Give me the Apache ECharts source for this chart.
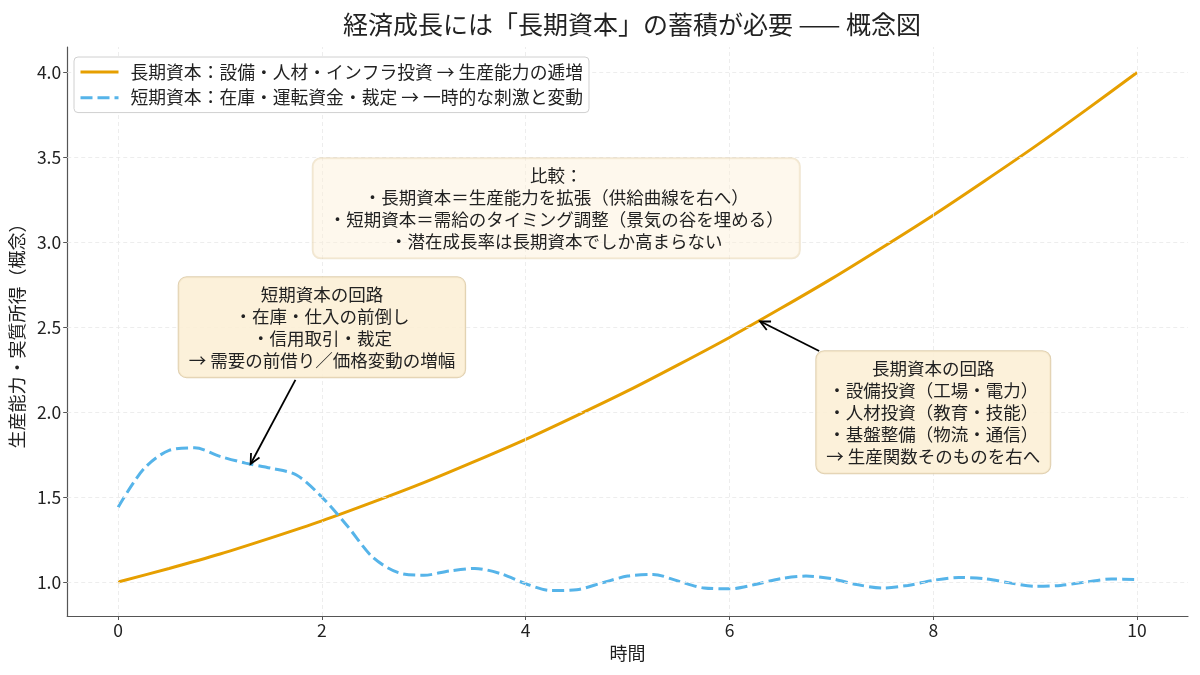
<!DOCTYPE html>
<html>
<head>
<meta charset="utf-8">
<script src="https://cdn.jsdelivr.net/npm/echarts@6/dist/echarts.min.js"></script>
<style>
  html, body { margin: 0; background: #fff; }
  #main { width: 1200px; height: 675px; }
</style>
</head>
<body>
<div id="main"></div>
<script>
var FONT = '"Noto Sans CJK JP", "Noto Sans", sans-serif'

// 長期資本（実線）
var xLong = [0, 0.5, 1, 1.5, 2, 2.5, 3, 3.5, 4, 4.5, 5, 5.5, 6, 6.5, 7, 7.5, 8, 8.5, 9, 9.5, 10]
var yLong = [1.00, 1.08, 1.165, 1.26, 1.36, 1.47, 1.585, 1.71, 1.84, 1.98, 2.125, 2.28, 2.44, 2.61, 2.785, 2.97, 3.16, 3.36, 3.565, 3.78, 4.00]

// 短期資本（破線）
var xShort = [0, 0.25, 0.5, 0.75, 1, 1.25, 1.5, 1.75, 2, 2.25, 2.5, 2.75, 3, 3.25, 3.5, 3.75, 4, 4.25, 4.5, 4.75,
              5, 5.25, 5.5, 5.75, 6, 6.25, 6.5, 6.75, 7, 7.25, 7.5, 7.75, 8, 8.25, 8.5, 8.75, 9, 9.25, 9.5, 9.75, 10]
var yShort = [1.44, 1.665, 1.775, 1.79, 1.74, 1.70, 1.67, 1.63, 1.50, 1.33, 1.145, 1.055, 1.04, 1.065, 1.08, 1.05, 0.99, 0.95, 0.955, 0.995,
              1.035, 1.045, 1.005, 0.965, 0.96, 0.985, 1.02, 1.035, 1.02, 0.985, 0.965, 0.98, 1.01, 1.027, 1.02, 0.995, 0.975, 0.98, 1.0, 1.018, 1.015]

var xTicks = [0, 2, 4, 6, 8, 10]
var yTicks = [1.0, 1.5, 2.0, 2.5, 3.0, 3.5, 4.0]

var nameLong = '長期資本：設備・人材・インフラ投資 → 生産能力の逓増'
var nameShort = '短期資本：在庫・運転資金・裁定 → 一時的な刺激と変動'

function pairs(xs, ys) {
    return xs.map(function (x, i) { return [x, ys[i]] })
}

var axisColor = '#555'
var gridLine = { color: '#e8e8e8', width: 0.8, type: [4, 3] }

var chart = echarts.init(document.getElementById('main'))

var option = {
    animation: false,
    title: {
        text: '経済成長には「長期資本」の蓄積が必要 —— 概念図',
        left: 627,
        textAlign: 'center',
        top: 7,
        textStyle: { fontFamily: FONT, fontSize: 25, fontWeight: 'normal', color: '#222' }
    },
    grid: { left: 66, right: 12, top: 47, bottom: 59 },
    legend: {
        data: [nameLong, nameShort],
        orient: 'vertical',
        left: 74,
        top: 57,
        z: 20,
        itemWidth: 38,
        itemHeight: 14,
        itemGap: 8,
        padding: [6, 6, 6, 5],
        backgroundColor: '#ffffff',
        borderColor: '#d0d0d0',
        borderWidth: 1,
        borderRadius: 4,
        itemStyle: { opacity: 0 },
        lineStyle: { width: 3 },
        textStyle: { fontFamily: FONT, fontSize: 17.8, color: '#222', padding: [0, 0, 0, 7] }
    },
    xAxis: {
        type: 'value',
        min: -0.5,
        max: 10.5,
        name: '時間',
        nameLocation: 'middle',
        nameGap: 27,
        nameTextStyle: { fontFamily: FONT, fontSize: 18, color: '#222' },
        axisLine: { onZero: false, lineStyle: { color: axisColor, width: 1.2 } },
        axisTick: { show: true, length: 4, customValues: xTicks, lineStyle: { color: axisColor } },
        axisLabel: { customValues: xTicks, fontFamily: FONT, fontSize: 17.5, color: '#222', margin: 6 },
        splitLine: { show: false }
    },
    yAxis: {
        type: 'value',
        min: 0.8,
        max: 4.15,
        name: '生産能力・実質所得（概念）',
        nameLocation: 'middle',
        nameGap: 30,
        nameTextStyle: { fontFamily: FONT, fontSize: 18, color: '#222' },
        axisLine: { show: true, onZero: false, lineStyle: { color: axisColor, width: 1.2 } },
        axisTick: { show: true, length: 4, customValues: yTicks, lineStyle: { color: axisColor } },
        axisLabel: {
            customValues: yTicks, fontFamily: FONT, fontSize: 17.5, color: '#222', margin: 6,
            formatter: function (v) { return v.toFixed(1) }
        },
        splitLine: { show: false }
    },
    series: [
        {
            // 補助線（グリッド）
            name: 'grid',
            type: 'line',
            data: [],
            z: 1,
            silent: true,
            markLine: {
                silent: true,
                symbol: ['none', 'none'],
                label: { show: false },
                lineStyle: gridLine,
                data: xTicks.map(function (v) { return { xAxis: v } })
                    .concat(yTicks.map(function (v) { return { yAxis: v } }))
            }
        },
        {
            name: nameLong,
            type: 'line',
            data: pairs(xLong, yLong),
            smooth: 0.3,
            showSymbol: false,
            symbol: 'none',
            z: 3,
            color: '#E69F00',
            lineStyle: { color: '#E69F00', width: 3, type: 'solid' }
        },
        {
            name: nameShort,
            type: 'line',
            data: pairs(xShort, yShort),
            smooth: 0.3,
            showSymbol: false,
            symbol: 'none',
            z: 4,
            color: '#56B4E9',
            lineStyle: { color: '#56B4E9', width: 3, type: [12, 5] }
        }
    ]
}
chart.setOption(option)

// 注釈 ==================================================
function px(p) { return chart.convertToPixel({ gridIndex: 0 }, p) }

var notes = [
    {
        at: [4.3, 3.2],
        lines: ['比較：', '・長期資本＝生産能力を拡張（供給曲線を右へ）', '・短期資本＝需給のタイミング調整（景気の谷を埋める）', '・潜在成長率は長期資本でしか高まらない'],
        bg: 'rgba(252,240,216,0.45)', border: 'rgba(225,205,165,0.5)', pad: [6, 16, 6, 16]
    },
    {
        at: [2.0, 2.5],
        lines: ['短期資本の回路', '・在庫・仕入の前倒し', '・信用取引・裁定', '→ 需要の前借り／価格変動の増幅'],
        bg: 'rgba(252,238,212,0.85)', border: 'rgba(215,195,155,0.8)', pad: [6, 10, 6, 10]
    },
    {
        at: [8.0, 2.0],
        lines: ['長期資本の回路', '・設備投資（工場・電力）', '・人材投資（教育・技能）', '・基盤整備（物流・通信）', '→ 生産関数そのものを右へ'],
        bg: 'rgba(252,238,212,0.85)', border: 'rgba(215,195,155,0.8)', pad: [6, 10, 6, 10]
    }
]

var arrows = [
    { from: [1.74, 2.19], to: [1.3, 1.695] },
    { from: [6.88, 2.36], to: [6.3, 2.535] }
]

var elements = []
notes.forEach(function (n) {
    var p = px(n.at)
    elements.push({
        type: 'text',
        x: p[0],
        y: p[1],
        z: 10,
        style: {
            text: n.lines.join('\n'),
            font: '17.5px ' + FONT,
            fill: '#222',
            align: 'center',
            verticalAlign: 'middle',
            lineHeight: 22,
            backgroundColor: n.bg,
            borderColor: n.border,
            borderWidth: 1,
            borderRadius: 8,
            padding: n.pad
        }
    })
})

arrows.forEach(function (a) {
    var p0 = px(a.from), p1 = px(a.to)
    var ang = Math.atan2(p1[1] - p0[1], p1[0] - p0[0])
    var L = 11, W = 0.45
    var h1 = [p1[0] - L * Math.cos(ang - W), p1[1] - L * Math.sin(ang - W)]
    var h2 = [p1[0] - L * Math.cos(ang + W), p1[1] - L * Math.sin(ang + W)]
    elements.push({
        type: 'polyline', z: 11, silent: true,
        shape: { points: [p0, p1] },
        style: { stroke: '#000', lineWidth: 1.8, fill: null }
    })
    elements.push({
        type: 'polyline', z: 11, silent: true,
        shape: { points: [h1, p1, h2] },
        style: { stroke: '#000', lineWidth: 1.8, fill: null }
    })
})

chart.setOption({ graphic: { elements: elements } })

window.addEventListener('resize', function () {
    chart.resize()
})
</script>
</body>
</html>
